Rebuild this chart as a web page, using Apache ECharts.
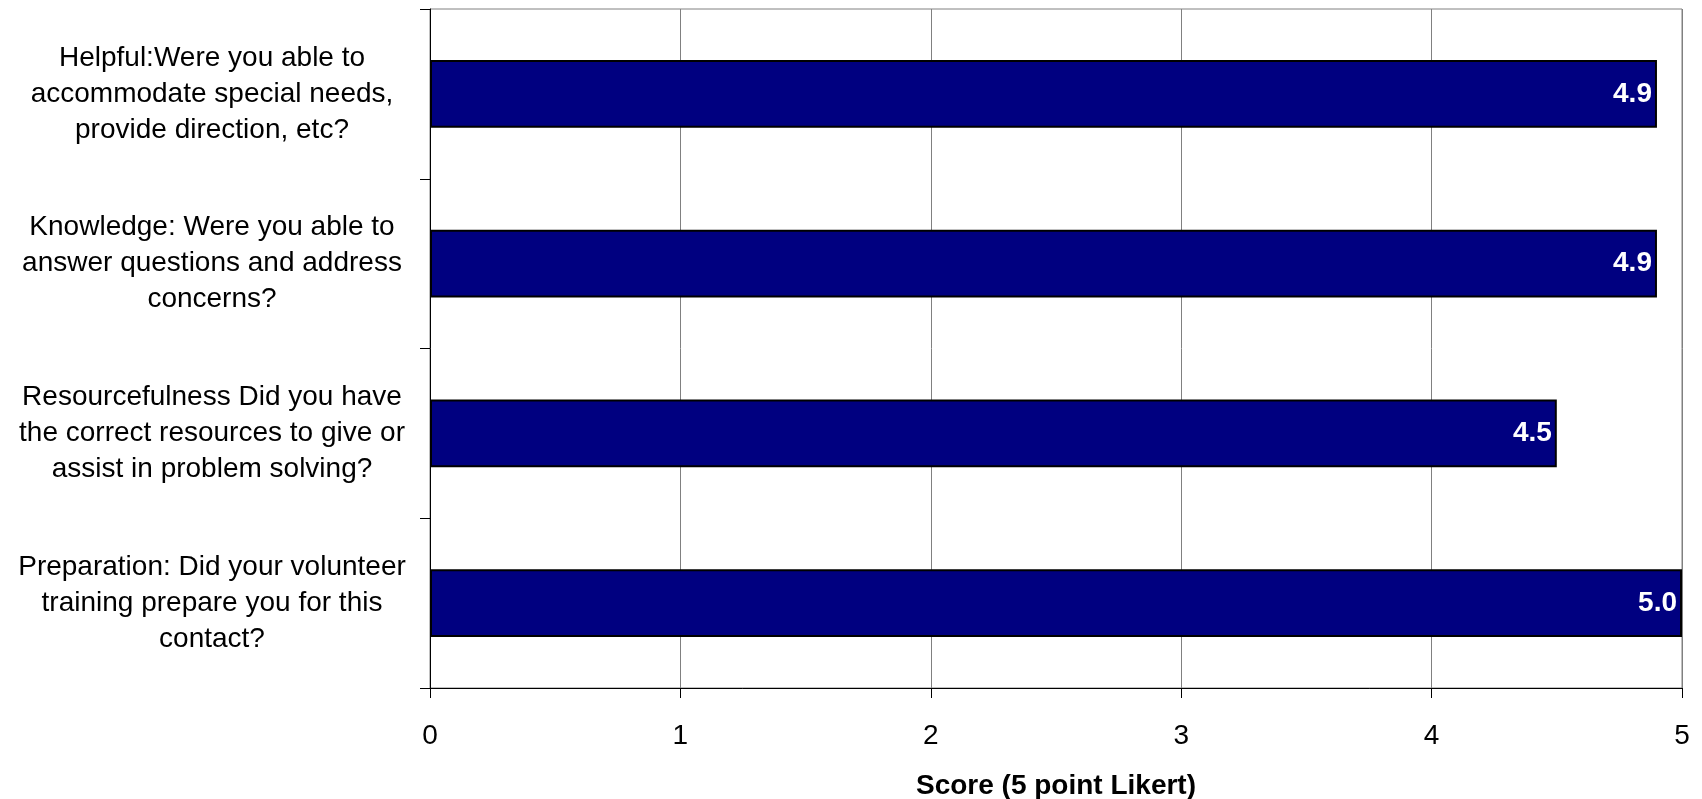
<!DOCTYPE html>
<html>
<head>
<meta charset="utf-8">
<script src="https://cdn.jsdelivr.net/npm/echarts@6/dist/echarts.min.js"></script>
<style>
html,body{margin:0;padding:0;background:#fff;}
#chart{width:1702px;height:799px;}
</style>
</head>
<body>
<div id="chart"></div>
<script>
const categories = [
  "Helpful:Were you able to\naccommodate special needs,\nprovide direction, etc?",
  "Knowledge: Were you able to\nanswer questions and address\nconcerns?",
  "Resourcefulness Did you have\nthe correct resources to give or\nassist in problem solving?",
  "Preparation: Did your volunteer\ntraining prepare you for this\ncontact?"
];
const scores = [4.9, 4.9, 4.5, 5.0];
const xAxisTitle = "Score (5 point Likert)";
const xMin = 0, xMax = 5, xInterval = 1;

const chart = echarts.init(document.getElementById('chart'), null, {renderer: 'canvas'});
const font = "'Liberation Sans', Arial, sans-serif";
chart.setOption({
  animation: false,
  backgroundColor: '#ffffff',
  grid: {
    left: 430, top: 9, right: 20, bottom: 111,
    outerBoundsMode: 'none',
    containLabel: false,
    show: true, borderColor: '#808080', borderWidth: 1, backgroundColor: 'transparent'
  },
  xAxis: {
    type: 'value',
    min: xMin, max: xMax, interval: xInterval,
    name: xAxisTitle,
    nameLocation: 'middle',
    nameGap: 84,
    nameTextStyle: {fontFamily: font, fontSize: 28, fontWeight: 'bold', color: '#000'},
    axisLine: {show: true, lineStyle: {color: '#000', width: 1}},
    axisTick: {show: true, length: 10, lineStyle: {color: '#000'}},
    axisLabel: {fontFamily: font, fontSize: 28, color: '#000', margin: 34},
    splitLine: {show: true, lineStyle: {color: '#808080', width: 1}}
  },
  yAxis: {
    type: 'category',
    inverse: true,
    data: categories,
    axisLine: {show: true, lineStyle: {color: '#000', width: 1}},
    axisTick: {show: true, length: 10, lineStyle: {color: '#000'}},
    axisLabel: {
      interval: 0, fontFamily: font, fontSize: 28, color: '#000',
      align: 'center', margin: 218, lineHeight: 36
    },
    splitLine: {show: false}
  },
  series: [{
    type: 'bar',
    data: scores,
    barCategoryGap: '60%',
    itemStyle: {color: '#000080', borderColor: '#000', borderWidth: 2},
    label: {
      show: true, position: 'insideRight', distance: 5,
      color: '#fff', fontFamily: font, fontSize: 28, fontWeight: 'bold',
      formatter: p => p.value.toFixed(1)
    }
  }]
});
</script>
</body>
</html>
